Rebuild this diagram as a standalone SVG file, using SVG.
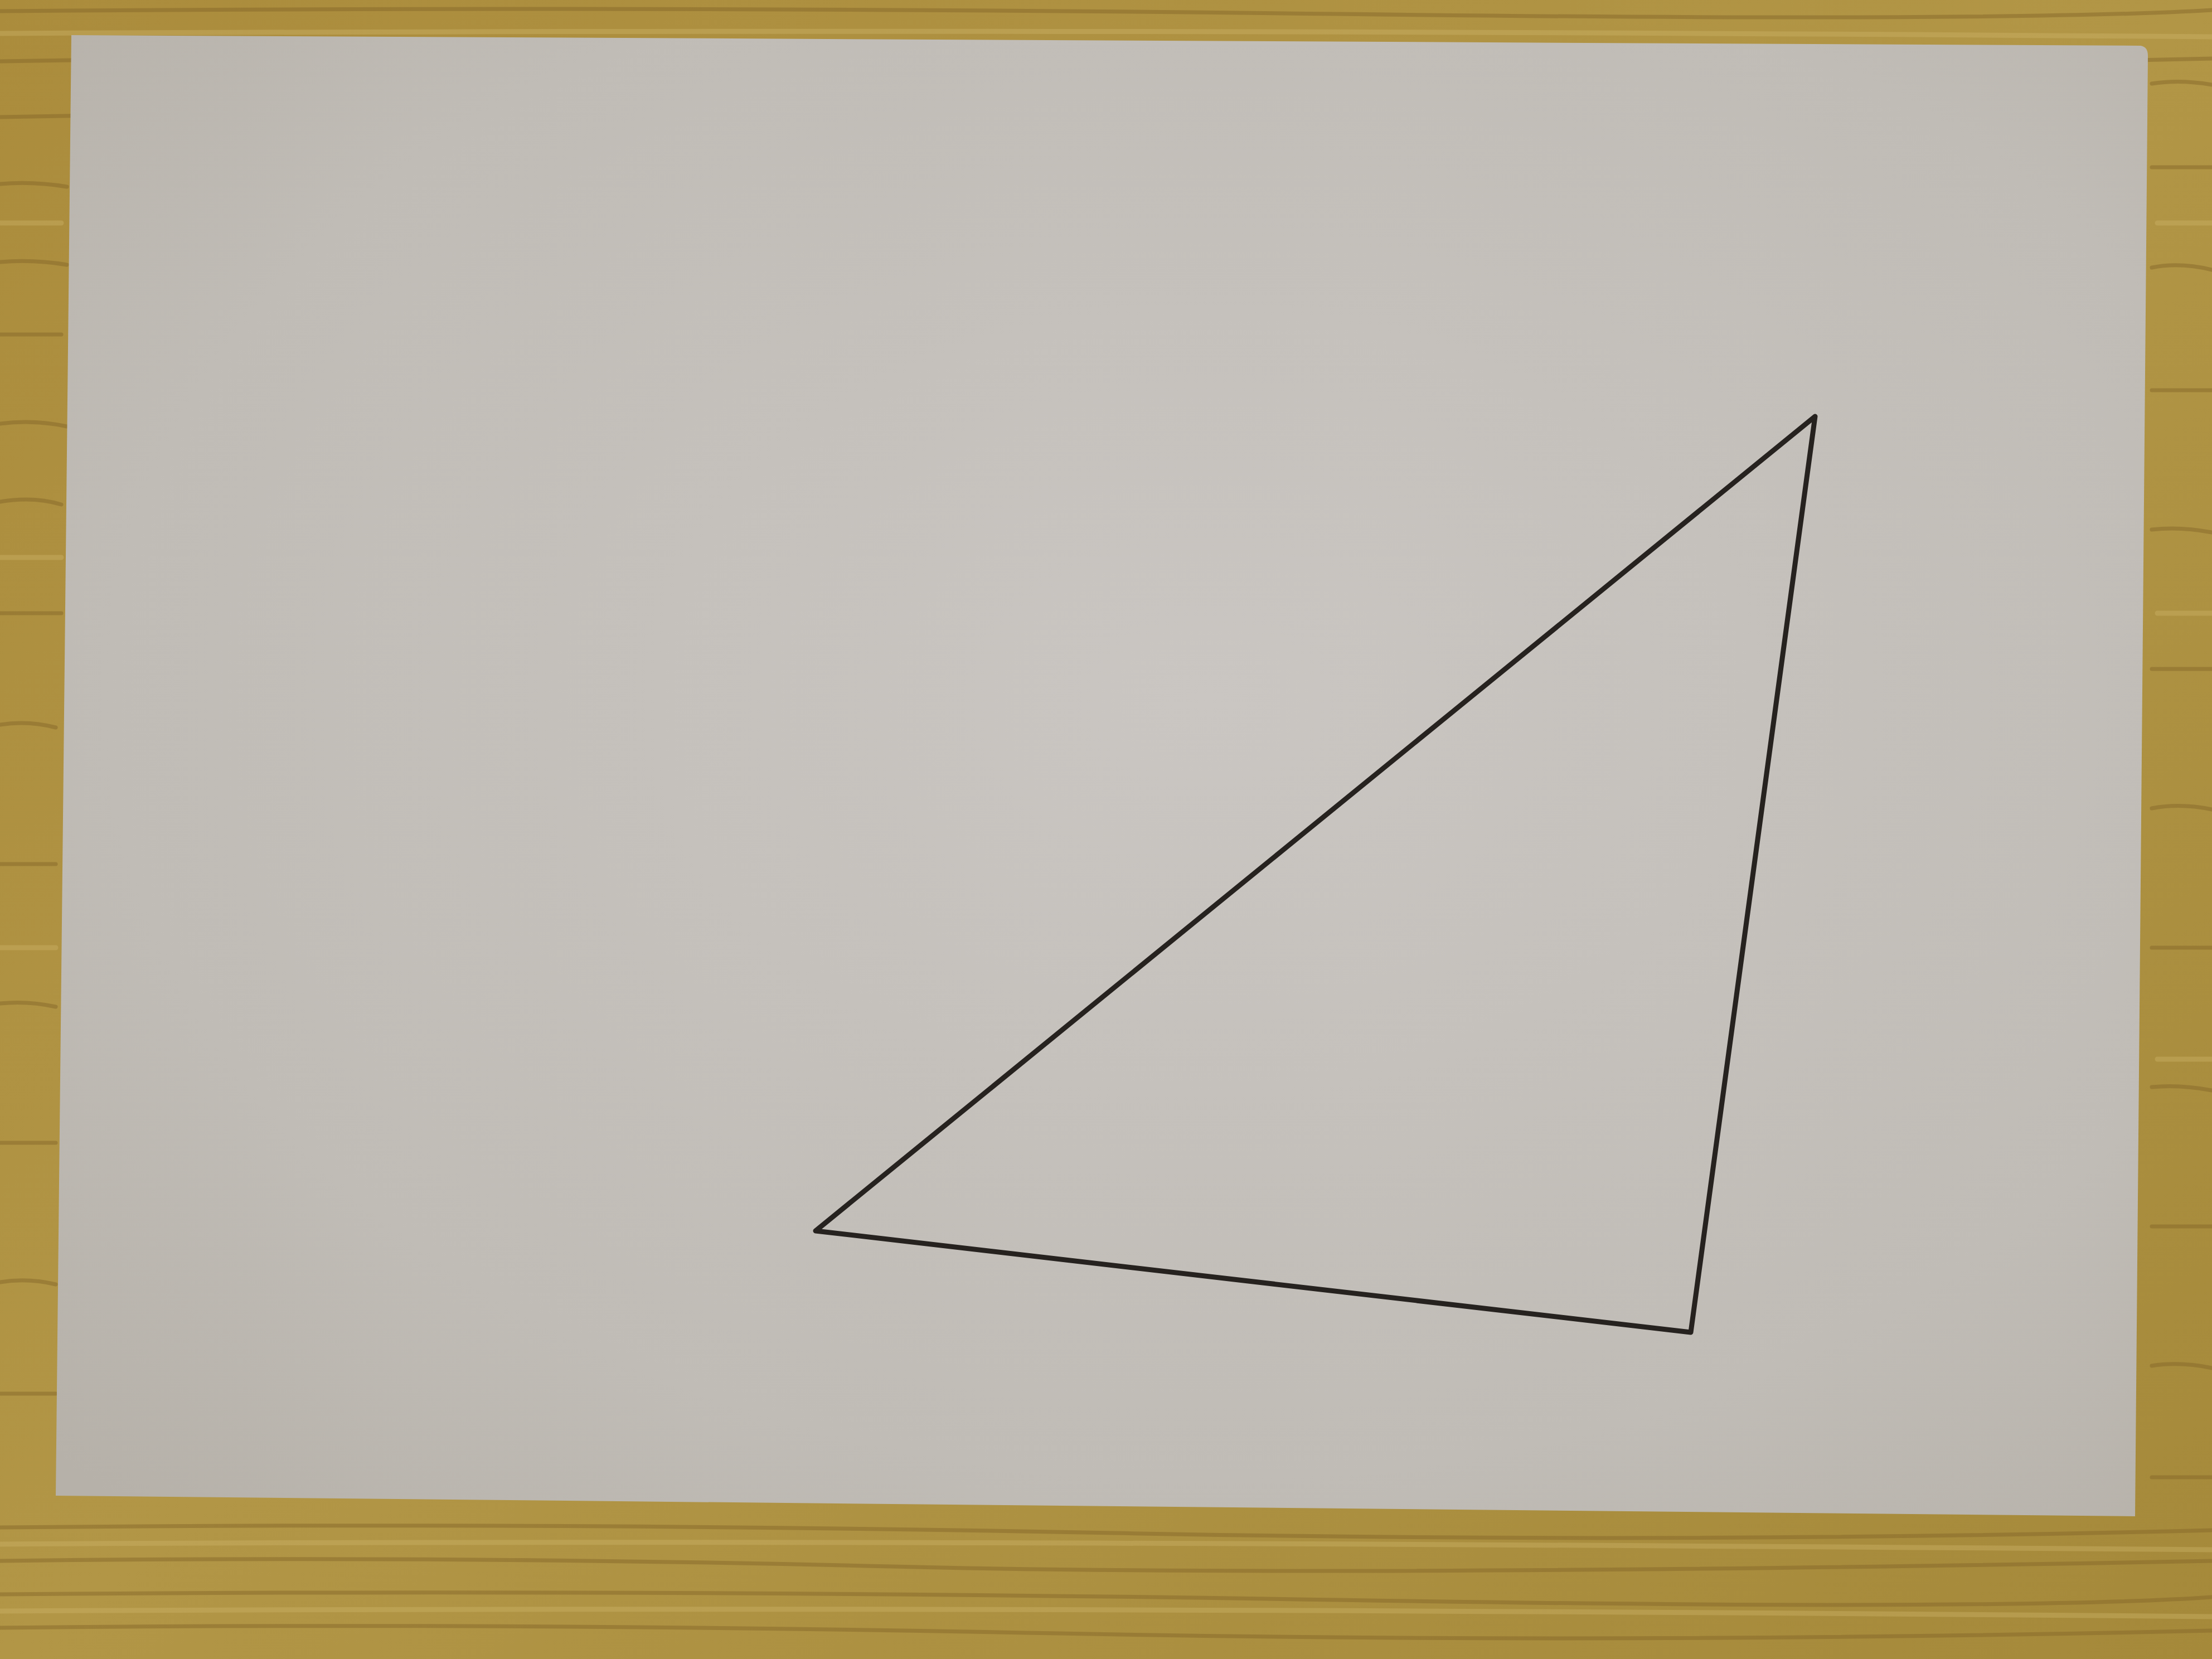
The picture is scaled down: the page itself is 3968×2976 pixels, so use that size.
<svg xmlns="http://www.w3.org/2000/svg" width="3968" height="2976" viewBox="0 0 3968 2976">
<defs>
<linearGradient id="wood" x1="0" y1="0" x2="1" y2="1">
<stop offset="0" stop-color="#ab8c3c"/>
<stop offset="0.5" stop-color="#b29646"/>
<stop offset="1" stop-color="#a5893a"/>
</linearGradient>
<radialGradient id="paper" cx="0.55" cy="0.45" r="0.75">
<stop offset="0" stop-color="#cac6c2"/>
<stop offset="0.7" stop-color="#c0bcb6"/>
<stop offset="1" stop-color="#b6b1a9"/>
</radialGradient>
<style>
.grain{stroke:#86682a;stroke-width:7;fill:none;opacity:0.5;stroke-linecap:round}
.grainl{stroke:#cdb56a;stroke-width:9;fill:none;opacity:0.4;stroke-linecap:round}
.pen{stroke:#26221f;stroke-width:9;fill:none;stroke-linejoin:round;stroke-linecap:round}
</style>
</defs>
<rect width="3968" height="2976" fill="url(#wood)"/>
<g id="grain">
<path class="grain" d="M0 20 Q1200 10 2400 25 T3968 18 M0 110 Q900 95 1800 115 T3968 105 M0 210 Q500 200 1000 215 M0 330 Q60 325 120 335 M0 470 Q60 465 120 475 M0 600 H110 M0 760 Q60 752 120 765 M0 900 Q60 890 110 905 M0 1100 H110 M0 1300 Q50 1292 100 1305 M0 1550 H100 M0 1800 Q50 1795 100 1806 M0 2050 H100 M0 2300 Q50 2292 100 2304 M0 2500 H100"/>
<path class="grain" d="M3860 150 Q3910 142 3968 152 M3860 300 H3968 M3860 480 Q3910 470 3968 484 M3860 700 H3968 M3860 950 Q3910 944 3968 955 M3860 1200 H3968 M3860 1450 Q3910 1440 3968 1452 M3860 1700 H3968 M3860 1950 Q3910 1945 3968 1956 M3860 2200 H3968 M3860 2450 Q3910 2442 3968 2454 M3860 2650 H3968"/>
<path class="grain" d="M0 2740 Q1000 2730 2000 2750 T3968 2745 M0 2800 Q800 2790 1600 2810 T3968 2800 M0 2860 Q1200 2850 2400 2870 T3968 2865 M0 2920 Q900 2910 1900 2930 T3968 2925"/>
<path class="grainl" d="M0 60 Q2000 50 3968 66 M0 2770 Q1500 2760 3968 2780 M0 2890 Q1800 2880 3968 2900 M0 400 H110 M0 1000 H110 M0 1700 H100 M3870 400 H3968 M3870 1100 H3968 M3870 1900 H3968"/>
</g>
<path id="paper-sheet" d="M128 63 L3840 82 Q3853 84 3853 100 L3830 2720 L100 2683 Z" fill="url(#paper)"/>
<g id="triangle">
<polygon class="pen" points="1463,2208 3256,747 3033,2390"/>
</g>
</svg>
